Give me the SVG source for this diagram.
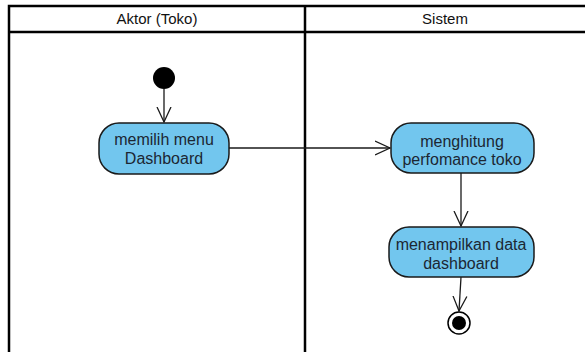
<svg xmlns="http://www.w3.org/2000/svg" width="585" height="352" viewBox="0 0 585 352">
<defs>
<style>
.lane{stroke:#000;stroke-width:2.5;fill:none}
.hdr{font-family:"Liberation Sans",Arial,sans-serif;font-size:15px;fill:#111;text-anchor:middle}
.act{fill:#72c6ee;stroke:#1a1a1a;stroke-width:1.5}
.lbl{font-family:"Liberation Sans",Arial,sans-serif;font-size:16px;fill:#1c2733;text-anchor:middle}
.edge{stroke:#1a1a1a;stroke-width:1.3;fill:none}
</style>
<marker id="open" markerWidth="18" markerHeight="18" refX="15" refY="8" orient="auto" markerUnits="userSpaceOnUse">
<path d="M0,1 L15,8 L0,15" fill="none" stroke="#1a1a1a" stroke-width="1.3"/>
</marker>
</defs>
<rect width="585" height="352" fill="#fff"/>
<g id="swimlanes">
<path class="lane" d="M9,360 V6 H590 M9,32 H590 M305,6 V360"/>
<text class="hdr" x="157" y="24">Aktor (Toko)</text>
<text class="hdr" x="445" y="24">Sistem</text>
</g>
<g id="connectors">
<path class="edge" d="M164,89 V122" marker-end="url(#open)"/>
<path class="edge" d="M229,148 H390" marker-end="url(#open)"/>
<path class="edge" d="M461,173 V226" marker-end="url(#open)"/>
<path class="edge" d="M461,277 L459,311" marker-end="url(#open)"/>
</g>
<g id="start">
<circle cx="164" cy="78" r="11" fill="#000"/>
</g>
<g id="memilih">
<rect class="act" x="99" y="123" width="130" height="51" rx="20"/>
<text class="lbl" x="164" y="145">memilih menu</text>
<text class="lbl" x="164" y="164">Dashboard</text>
</g>
<g id="menghitung">
<rect class="act" x="391" y="123" width="143" height="50" rx="20"/>
<text class="lbl" x="462" y="147">menghitung</text>
<text class="lbl" x="462" y="165">perfomance toko</text>
</g>
<g id="menampilkan">
<rect class="act" x="389" y="227" width="145" height="50" rx="20"/>
<text class="lbl" x="461" y="250">menampilkan data</text>
<text class="lbl" x="461" y="269">dashboard</text>
</g>
<g id="end">
<circle cx="459" cy="323" r="11" fill="#fff" stroke="#000" stroke-width="1.5"/>
<circle cx="459" cy="323" r="7" fill="#000"/>
</g>
</svg>
